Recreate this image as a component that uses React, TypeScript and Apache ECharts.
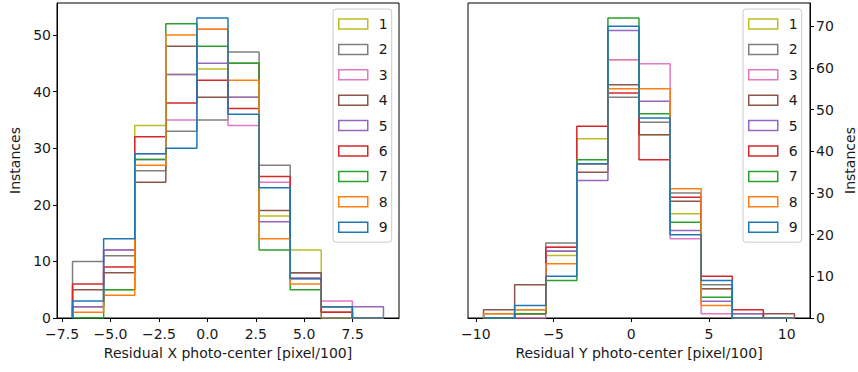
import React, { useEffect, useRef } from 'react';
import * as echarts from 'echarts';

const SERIES_NAMES = ['1', '2', '3', '4', '5', '6', '7', '8', '9'];
const COLORS = ['#bcbd22', '#7f7f7f', '#e377c2', '#8c564b', '#9467bd', '#d62728', '#2ca02c', '#ff7f0e', '#1f77b4'];

// Bin edges
const X_EDGES = [-6.96, -5.355, -3.75, -2.145, -0.54, 1.065, 2.67, 4.275, 5.88, 7.485, 9.09];
const Y_EDGES = [-9.5, -7.5, -5.5, -3.5, -1.5, 0.5, 2.5, 4.5, 6.5, 8.5, 10.5];

// Residual X histogram counts (series 1..9)
const X_COUNTS_1 = [2, 5, 34, 43, 44, 39, 18, 12, 0, 0];
const X_COUNTS_2 = [10, 11, 26, 33, 35, 47, 27, 8, 0, 0];
const X_COUNTS_3 = [2, 12, 29, 35, 51, 34, 24, 7, 3, 0];
const X_COUNTS_4 = [5, 8, 24, 48, 39, 45, 19, 8, 1, 0];
const X_COUNTS_5 = [2, 12, 28, 43, 45, 39, 17, 7, 2, 2];
const X_COUNTS_6 = [6, 9, 32, 38, 42, 37, 25, 7, 1, 0];
const X_COUNTS_7 = [0, 5, 28, 52, 48, 45, 12, 5, 2, 0];
const X_COUNTS_8 = [1, 4, 27, 50, 51, 42, 14, 6, 2, 0];
const X_COUNTS_9 = [3, 14, 29, 30, 53, 36, 23, 7, 2, 0];

// Residual Y histogram counts (series 1..9)
const Y_COUNTS_1 = [0, 1, 15, 43, 62, 44, 25, 7, 0, 0];
const Y_COUNTS_2 = [1, 2, 18, 37, 53, 47, 30, 8, 1, 0];
const Y_COUNTS_3 = [0, 0, 17, 37, 62, 61, 19, 1, 0, 0];
const Y_COUNTS_4 = [2, 8, 16, 35, 56, 44, 28, 7, 0, 1];
const Y_COUNTS_5 = [0, 1, 16, 33, 69, 52, 21, 4, 1, 0];
const Y_COUNTS_6 = [0, 1, 17, 46, 54, 38, 29, 10, 2, 0];
const Y_COUNTS_7 = [0, 1, 9, 38, 72, 49, 23, 5, 0, 0];
const Y_COUNTS_8 = [1, 2, 13, 37, 55, 55, 31, 3, 0, 0];
const Y_COUNTS_9 = [0, 3, 10, 37, 70, 48, 20, 9, 0, 0];

const X_COUNTS = [X_COUNTS_1, X_COUNTS_2, X_COUNTS_3, X_COUNTS_4, X_COUNTS_5, X_COUNTS_6, X_COUNTS_7, X_COUNTS_8, X_COUNTS_9];
const Y_COUNTS = [Y_COUNTS_1, Y_COUNTS_2, Y_COUNTS_3, Y_COUNTS_4, Y_COUNTS_5, Y_COUNTS_6, Y_COUNTS_7, Y_COUNTS_8, Y_COUNTS_9];

const LEFT_X_TICKS = [-7.5, -5, -2.5, 0, 2.5, 5, 7.5];
const RIGHT_X_TICKS = [-10, -5, 0, 5, 10];
const LEFT_Y_TICKS = [0, 10, 20, 30, 40, 50];
const RIGHT_Y_TICKS = [0, 10, 20, 30, 40, 50, 60, 70];

const FONT = 'DejaVu Sans';
const TXT = '#1a1a1a';
const FS = 14;

function stepPoints(edges: number[], counts: number[]) {
  const pts: number[][] = [[edges[0], 0]];
  for (let i = 0; i < counts.length; i++) {
    pts.push([edges[i], counts[i]]);
    pts.push([edges[i + 1], counts[i]]);
  }
  pts.push([edges[edges.length - 1], 0]);
  return pts;
}

const minus = (s: string) => s.replace('-', '\u2212');

function valueAxis(extra: any) {
  return {
    type: 'value',
    splitLine: { show: false },
    axisLine: { show: true, onZero: false, lineStyle: { color: '#000', width: 1 } },
    nameTextStyle: { color: TXT, fontFamily: FONT, fontSize: FS },
    ...extra,
  };
}

export default function App() {
  const ref = useRef<HTMLDivElement>(null);
  useEffect(() => {
    if (!ref.current) return;
    const chart = echarts.init(ref.current, undefined, { renderer: 'svg' });

    const series: any[] = [];
    SERIES_NAMES.forEach((name, i) => {
      series.push({
        name,
        type: 'line',
        xAxisIndex: 0,
        yAxisIndex: 0,
        data: stepPoints(X_EDGES, X_COUNTS[i]),
        symbol: 'none',
        lineStyle: { color: COLORS[i], width: 1.5 },
        itemStyle: { color: COLORS[i] },
      });
    });
    SERIES_NAMES.forEach((name, i) => {
      series.push({
        name,
        type: 'line',
        xAxisIndex: 1,
        yAxisIndex: 1,
        data: stepPoints(Y_EDGES, Y_COUNTS[i]),
        symbol: 'none',
        lineStyle: { color: COLORS[i], width: 1.5 },
        itemStyle: { color: COLORS[i] },
      });
    });

    const legendData = SERIES_NAMES.map((name, i) => ({
      name,
      icon: 'rect',
      itemStyle: { color: 'rgba(0,0,0,0)', borderColor: COLORS[i], borderWidth: 1.5 },
    }));
    const legendCommon = {
      orient: 'vertical',
      top: 9,
      itemWidth: 29,
      itemHeight: 10,
      itemGap: 11.4,
      padding: [8, 4, 8, 5],
      backgroundColor: 'rgba(255,255,255,0.8)',
      borderColor: '#cccccc',
      borderWidth: 1,
      borderRadius: 3,
      textStyle: { color: TXT, fontFamily: FONT, fontSize: FS, padding: [0, 0, 0, 6] },
      selectedMode: false,
      data: legendData,
    };

    const labelStyle = { color: TXT, fontFamily: FONT, fontSize: FS };
    const tick = (vals: number[]) => ({ show: true, inside: false, length: 4, lineStyle: { color: '#000', width: 1 }, customValues: vals });

    chart.setOption({
      animation: false,
      backgroundColor: '#ffffff',
      grid: [
        { left: 57, top: 3, width: 342, height: 315, show: true, borderColor: '#000', borderWidth: 1 },
        { left: 468, top: 3, width: 343, height: 315, show: true, borderColor: '#000', borderWidth: 1 },
      ],
      xAxis: [
        valueAxis({
          gridIndex: 0,
          min: -7.7625,
          max: 9.8925,
          axisTick: tick(LEFT_X_TICKS),
          axisLabel: { ...labelStyle, margin: 9, customValues: LEFT_X_TICKS, formatter: (v: number) => minus(v.toFixed(1)) },
          name: 'Residual X photo-center [pixel/100]',
          nameLocation: 'middle',
          nameGap: 28,
        }),
        valueAxis({
          gridIndex: 1,
          min: -10.5,
          max: 11.5,
          axisTick: tick(RIGHT_X_TICKS),
          axisLabel: { ...labelStyle, margin: 9, customValues: RIGHT_X_TICKS, formatter: (v: number) => minus(String(v)) },
          name: 'Residual Y photo-center [pixel/100]',
          nameLocation: 'middle',
          nameGap: 28,
        }),
      ],
      yAxis: [
        valueAxis({
          gridIndex: 0,
          min: 0,
          max: 55.65,
          position: 'left',
          axisTick: tick(LEFT_Y_TICKS),
          axisLabel: { ...labelStyle, margin: 6, customValues: LEFT_Y_TICKS, formatter: (v: number) => String(v) },
          name: 'Instances',
          nameLocation: 'middle',
          nameRotate: 90,
          nameGap: 35,
        }),
        valueAxis({
          gridIndex: 1,
          min: 0,
          max: 75.6,
          position: 'right',
          axisTick: tick(RIGHT_Y_TICKS),
          axisLabel: { ...labelStyle, margin: 6, customValues: RIGHT_Y_TICKS, formatter: (v: number) => String(v) },
          name: 'Instances',
          nameLocation: 'middle',
          nameRotate: 90,
          nameGap: 33,
        }),
      ],
      legend: [
        { ...legendCommon, left: 333 },
        { ...legendCommon, left: 743 },
      ],
      series,
    });

    return () => chart.dispose();
  }, []);

  return (
    <div
      ref={ref}
      style={{ position: 'fixed', left: 0, top: 0, width: 858, height: 372 }}
    />
  );
}
